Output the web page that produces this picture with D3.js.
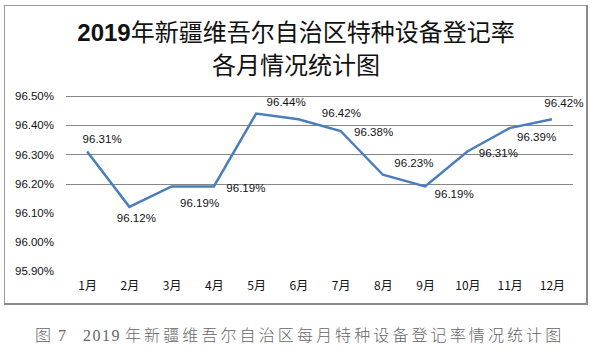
<!DOCTYPE html>
<html>
<head>
<meta charset="utf-8">
<script src="https://cdn.jsdelivr.net/npm/d3@7"></script>
<style>
  html, body { margin: 0; padding: 0; background: #fff; }
  svg { display: block; }
</style>
</head>
<body>
<svg id="chart" width="600" height="357"></svg>
<script>
// ---- data ----
const months = ["1月","2月","3月","4月","5月","6月","7月","8月","9月","10月","11月","12月"];
const rates = [96.31, 96.12, 96.19, 96.19, 96.44, 96.42, 96.38, 96.23, 96.19, 96.31, 96.39, 96.42];
const yTicks = [95.90, 96.00, 96.10, 96.20, 96.30, 96.40, 96.50];
const gridTicks = [96.20, 96.30, 96.40, 96.50];
const titleLines = ["年新疆维吾尔自治区特种设备登记率", "各月情况统计图"];
const caption = "年新疆维吾尔自治区每月特种设备登记率情况统计图";

// ---- layout (label placement offsets, px) ----
const labelOffset = [[15,-12],[7,11],[28,17],[32,2],[30,-12],[43,-6],[33,1],[31,-12],[29,8],[31,2],[27,9],[12,-16]];

const svg = d3.select("#chart");
const fontLatin = "'Liberation Sans', Arial, sans-serif";
const fontCJK = "'Noto Sans CJK SC', 'Noto Sans', sans-serif";

// frame
svg.append("rect").attr("x", 4.5).attr("y", 5.5).attr("width", 582).attr("height", 298)
  .attr("fill", "none").attr("stroke", "#9a9a9a").attr("stroke-width", 1);
svg.append("path").attr("d", "M587,5 V304 H4").attr("fill", "none")
  .attr("stroke", "#8a8a8a").attr("stroke-width", 2);

// title
const t1 = svg.append("text").attr("x", 296).attr("y", 41).attr("text-anchor", "middle")
  .attr("font-size", 24).attr("fill", "#111");
t1.append("tspan").attr("font-family", fontLatin).attr("font-weight", "bold").text("2019");
t1.append("tspan").attr("font-family", fontCJK).attr("font-weight", 400).text(titleLines[0]);
svg.append("text").attr("x", 296).attr("y", 74).attr("text-anchor", "middle")
  .attr("font-size", 24).attr("font-family", fontCJK).attr("font-weight", 400)
  .attr("fill", "#111").text(titleLines[1]);

// scales
const x = d3.scalePoint().domain(months).range([66, 573]).padding(0.5);
const y = d3.scaleLinear().domain([95.9, 96.5]).range([271, 96]);

// gridlines
svg.append("g").selectAll("line").data(gridTicks).join("line")
  .attr("x1", 66).attr("x2", 573)
  .attr("y1", d => Math.round(y(d)) + 0.5).attr("y2", d => Math.round(y(d)) + 0.5)
  .attr("stroke", "#868686").attr("stroke-width", 1);

// y axis
const yAxis = svg.append("g").attr("transform", "translate(54,0)")
  .call(d3.axisLeft(y).tickValues(yTicks).tickSize(0).tickPadding(0).tickFormat(d => d.toFixed(2) + "%"));
yAxis.select(".domain").remove();
yAxis.selectAll("text").attr("font-family", fontLatin).attr("font-size", 11.5).attr("fill", "#111");

// x axis
const xAxis = svg.append("g").attr("transform", "translate(0,278)")
  .call(d3.axisBottom(x).tickSize(0).tickPadding(3));
xAxis.select(".domain").remove();
xAxis.selectAll("text").attr("font-family", fontCJK).attr("font-size", 12).attr("fill", "#111");

// line
const line = d3.line().x((d, i) => x(months[i])).y(d => y(d));
svg.append("path").datum(rates).attr("d", line)
  .attr("fill", "none").attr("stroke", "#4a7ebb").attr("stroke-width", 2.5)
  .attr("stroke-linejoin", "miter");

// data labels
svg.append("g").selectAll("text").data(rates).join("text")
  .attr("x", (d, i) => x(months[i]) + labelOffset[i][0])
  .attr("y", (d, i) => y(d) + labelOffset[i][1])
  .attr("dy", "0.35em").attr("text-anchor", "middle")
  .attr("font-family", fontLatin).attr("font-size", 11.5).attr("fill", "#111")
  .text(d => d.toFixed(2) + "%");

// caption
const cap = svg.append("g").attr("fill", "#666");
cap.append("text").attr("x", 35).attr("y", 341).attr("font-size", 16).attr("font-family", fontCJK).attr("font-weight", 300).text("图");
cap.append("text").attr("x", 58).attr("y", 341).attr("font-size", 16).attr("font-family", "'Liberation Serif', serif").text("7");
cap.append("text").attr("x", 83).attr("y", 341).attr("font-size", 16).attr("font-family", "'Liberation Serif', serif")
  .attr("letter-spacing", 1.5).text("2019");
cap.append("text").attr("x", 125).attr("y", 341).attr("font-size", 16).attr("font-family", fontCJK)
  .attr("font-weight", 300).attr("letter-spacing", 3.1).text(caption);
</script>
</body>
</html>
